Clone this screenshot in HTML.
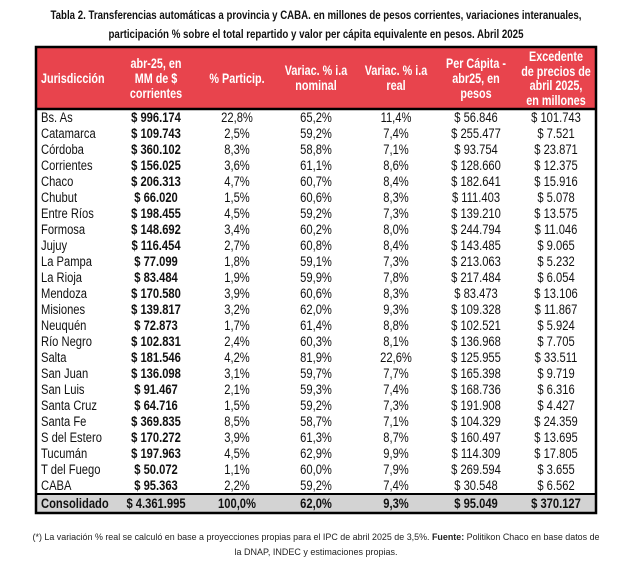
<!DOCTYPE html>
<html><head><meta charset="utf-8"><style>
html,body{margin:0;padding:0;background:#fff;}
svg{display:block;}
text{font-family:"Liberation Sans",sans-serif;}
</style></head><body>
<svg width="642" height="574" viewBox="0 0 642 574" xmlns="http://www.w3.org/2000/svg">
<text x="316" y="19" font-size="11.5" font-weight="bold" text-anchor="middle" textLength="531" lengthAdjust="spacingAndGlyphs" fill="#111">Tabla 2. Transferencias automáticas a provincia y CABA. en millones de pesos corrientes, variaciones interanuales,</text>
<text x="316" y="38" font-size="11.5" font-weight="bold" text-anchor="middle" textLength="415" lengthAdjust="spacingAndGlyphs" fill="#111">participación % sobre el total repartido y valor per cápita equivalente en pesos. Abril 2025</text>
<rect x="36" y="48" width="560" height="60" fill="#e8444d"/>
<rect x="36" y="494" width="560" height="18" fill="#d3d3d3"/>
<rect x="36" y="47" width="560" height="466" fill="none" stroke="#000" stroke-width="2.5"/>
<line x1="36" y1="109" x2="596" y2="109" stroke="#000" stroke-width="2.5"/>
<line x1="36" y1="494" x2="596" y2="494" stroke="#000" stroke-width="2"/>
<g id="hdr" font-size="13.5" font-weight="bold" fill="#fff" text-anchor="middle"></g>
<g font-size="14" fill="#111" text-anchor="middle" id="rows"></g>
<text x="316" y="540" font-size="9.5" text-anchor="middle" textLength="567" lengthAdjust="spacingAndGlyphs" fill="#222">(*) La variación % real se calculó en base a proyecciones propias para el IPC de abril 2025 de 3,5%. <tspan font-weight="bold">Fuente:</tspan> Politikon Chaco en base datos de</text>
<text x="316" y="555" font-size="9.5" text-anchor="middle" textLength="163" lengthAdjust="spacingAndGlyphs" fill="#222">la DNAP, INDEC y estimaciones propias.</text>
</svg>
<script>
var S=0.8;
function t(x,y,s,attrs){return '<text transform="translate('+x+','+y+') scale('+S+',1)"'+(attrs||'')+'>'+s+'</text>';}
var hh="";
hh+=t(41,83,"Jurisdicción",' text-anchor="start"');
[[156,68,"abr-25, en"],[156,83,"MM de $"],[156,98,"corrientes"],[237,83,"% Particip."],
[316,75,"Variac. % i.a"],[316,90,"nominal"],[396,75,"Variac. % i.a"],[396,90,"real"],
[476,68,"Per Cápita -"],[476,83,"abr25, en"],[476,98,"pesos"],
[556,61,"Excedente"],[556,76,"de precios de"],[556,90,"abril 2025,"],[556,105,"en millones"]].forEach(function(a){hh+=t(a[0],a[1],a[2]);});
document.getElementById("hdr").innerHTML=hh;
var d=[["Bs. As","$ 996.174","22,8%","65,2%","11,4%","$ 56.846","$ 101.743"],
["Catamarca","$ 109.743","2,5%","59,2%","7,4%","$ 255.477","$ 7.521"],
["Córdoba","$ 360.102","8,3%","58,8%","7,1%","$ 93.754","$ 23.871"],
["Corrientes","$ 156.025","3,6%","61,1%","8,6%","$ 128.660","$ 12.375"],
["Chaco","$ 206.313","4,7%","60,7%","8,4%","$ 182.641","$ 15.916"],
["Chubut","$ 66.020","1,5%","60,6%","8,3%","$ 111.403","$ 5.078"],
["Entre Ríos","$ 198.455","4,5%","59,2%","7,3%","$ 139.210","$ 13.575"],
["Formosa","$ 148.692","3,4%","60,2%","8,0%","$ 244.794","$ 11.046"],
["Jujuy","$ 116.454","2,7%","60,8%","8,4%","$ 143.485","$ 9.065"],
["La Pampa","$ 77.099","1,8%","59,1%","7,3%","$ 213.063","$ 5.232"],
["La Rioja","$ 83.484","1,9%","59,9%","7,8%","$ 217.484","$ 6.054"],
["Mendoza","$ 170.580","3,9%","60,6%","8,3%","$ 83.473","$ 13.106"],
["Misiones","$ 139.817","3,2%","62,0%","9,3%","$ 109.328","$ 11.867"],
["Neuquén","$ 72.873","1,7%","61,4%","8,8%","$ 102.521","$ 5.924"],
["Río Negro","$ 102.831","2,4%","60,3%","8,1%","$ 136.968","$ 7.705"],
["Salta","$ 181.546","4,2%","81,9%","22,6%","$ 125.955","$ 33.511"],
["San Juan","$ 136.098","3,1%","59,7%","7,7%","$ 165.398","$ 9.719"],
["San Luis","$ 91.467","2,1%","59,3%","7,4%","$ 168.736","$ 6.316"],
["Santa Cruz","$ 64.716","1,5%","59,2%","7,3%","$ 191.908","$ 4.427"],
["Santa Fe","$ 369.835","8,5%","58,7%","7,1%","$ 104.329","$ 24.359"],
["S del Estero","$ 170.272","3,9%","61,3%","8,7%","$ 160.497","$ 13.695"],
["Tucumán","$ 197.963","4,5%","62,9%","9,9%","$ 114.309","$ 17.805"],
["T del Fuego","$ 50.072","1,1%","60,0%","7,9%","$ 269.594","$ 3.655"],
["CABA","$ 95.363","2,2%","59,2%","7,4%","$ 30.548","$ 6.562"],
["Consolidado","$ 4.361.995","100,0%","62,0%","9,3%","$ 95.049","$ 370.127"]];
var xs=[41,156,237,316,396,476,556],h="";
d.forEach(function(r,i){var y=(i<24?117+16*i:503)+5;r.forEach(function(c,j){
var b=(j==1||i==24)?' font-weight="bold"':'';var a=j==0?' text-anchor="start"':'';
h+=t(xs[j],y,c,b+a);});});
document.getElementById("rows").innerHTML=h;
</script>
</body></html>
